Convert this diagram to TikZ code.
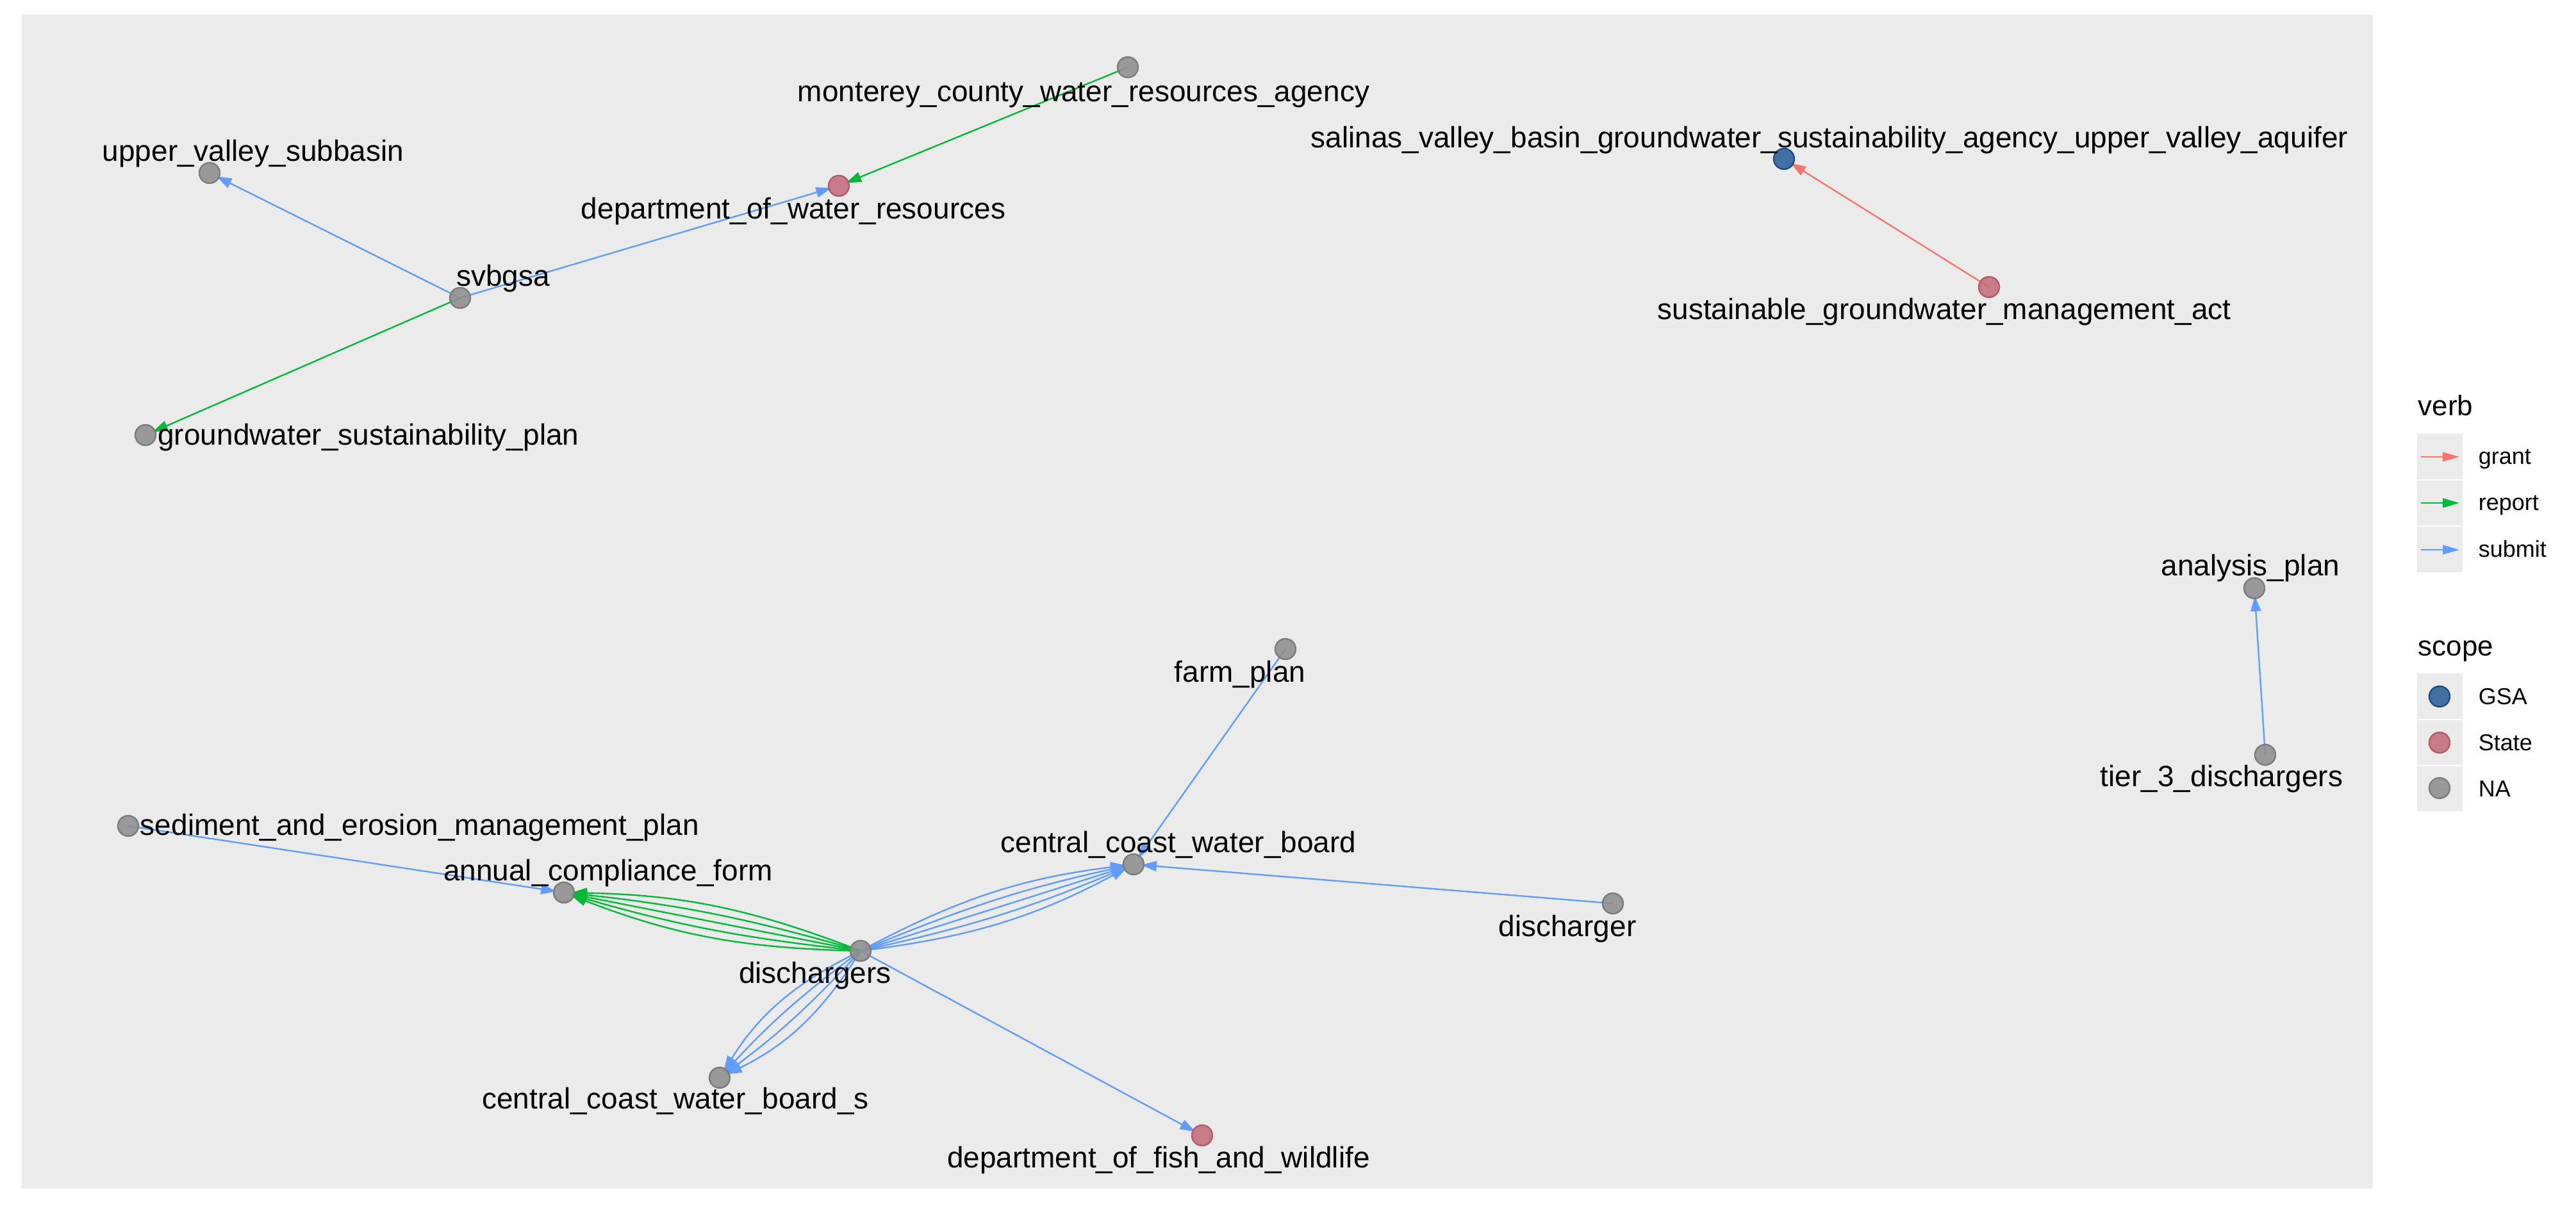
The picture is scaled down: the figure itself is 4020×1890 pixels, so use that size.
\documentclass[tikz,border=0pt]{standalone}
\usepackage{fontspec}
\setmainfont{Liberation Sans}
\usetikzlibrary{arrows.meta}
\definecolor{cgrant}{HTML}{F8766D}
\definecolor{creport}{HTML}{00BA38}
\definecolor{csubmit}{HTML}{619CFF}
\definecolor{panelbg}{HTML}{EBEBEB}
\definecolor{nafill}{HTML}{8E8E8E}
\definecolor{naborder}{HTML}{7C7C7C}
\definecolor{statefill}{HTML}{C46C7B}
\definecolor{stateborder}{HTML}{B45A69}
\definecolor{gsafill}{HTML}{2C5F99}
\definecolor{gsaborder}{HTML}{1B4C88}
\pgfdeclarelayer{bg}
\pgfdeclarelayer{edges}
\pgfsetlayers{bg,edges,main}
\begin{document}
\begin{tikzpicture}[x=0.25pt,y=-0.25pt,
  vnode/.style={circle, minimum size=8pt, inner sep=0pt, line width=0.6pt, fill opacity=0.88},
  na/.style={vnode, draw=naborder, fill=nafill},
  state/.style={vnode, draw=stateborder, fill=statefill},
  gsa/.style={vnode, draw=gsaborder, fill=gsafill},
  lbl/.style={anchor=base, inner sep=0pt, font=\fontsize{11.5}{13}\selectfont},
  ttl/.style={anchor=base west, inner sep=0pt, font=\fontsize{11}{13}\selectfont},
  keylbl/.style={anchor=base west, inner sep=0pt, font=\fontsize{9}{11}\selectfont},
  edge/.style={line width=0.6pt, shorten >=3pt, -{Triangle[length=6pt,width=4pt]}},
  grant/.style={edge, draw=cgrant},
  report/.style={edge, draw=creport},
  submit/.style={edge, draw=csubmit},
  legarrow/.style={line width=0.6pt, -{Triangle[length=6.5pt,width=3.6pt]}},
]
\useasboundingbox (0,0) rectangle (4020,1890);
\begin{pgfonlayer}{bg}
  \fill[panelbg] (34,23) rectangle (3703,1855);
  \fill[panelbg] (3772,677) rectangle (3843,893);
  \fill[panelbg] (3772,1051) rectangle (3843,1266);
  \draw[white, line width=0.3pt] (3772,749) -- (3843,749) (3772,821) -- (3843,821)
        (3772,1123) -- (3843,1123) (3772,1195) -- (3843,1195);
\end{pgfonlayer}

% graph nodes
\node[na] (mcwra) at (1760,105) {};
\node[state] (dwr) at (1309,290) {};
\node[na] (uvs) at (327,270) {};
\node[na] (svbgsa) at (718,465) {};
\node[na] (gsp) at (227,679) {};
\node[gsa] (svbuva) at (2784,248) {};
\node[state] (sgma) at (3104,448) {};
\node[na] (ap) at (3518,918) {};
\node[na] (t3d) at (3535,1178) {};
\node[na] (fp) at (2006,1013) {};
\node[na] (semp) at (200,1289) {};
\node[na] (acf) at (880,1393) {};
\node[na] (dis) at (1343,1484) {};
\node[na] (ccwb) at (1769,1349) {};
\node[na] (ccwbs) at (1123,1682) {};
\node[state] (dfw) at (1876,1772) {};
\node[na] (dsc) at (2517,1410) {};

% labels
\node[lbl] (lmcwra) at (1691,159) {monterey\_county\_water\_resources\_agency};
\node[lbl] (ldwr) at (1238,342) {department\_of\_water\_resources};
\node[lbl] (luvs) at (395,252) {upper\_valley\_subbasin};
\node[lbl] (lsvbgsa) at (785,447) {svbgsa};
\node[lbl] (lgsp) at (575,695) {groundwater\_sustainability\_plan};
\node[lbl] (lsvbuva) at (2855,231) {salinas\_valley\_basin\_groundwater\_sustainability\_agency\_upper\_valley\_aquifer};
\node[lbl] (lsgma) at (3034,499) {sustainable\_groundwater\_management\_act};
\node[lbl] (lap) at (3512,899) {analysis\_plan};
\node[lbl] (lt3d) at (3467,1228) {tier\_3\_dischargers};
\node[lbl] (lfp) at (1935,1065) {farm\_plan};
\node[lbl] (lsemp) at (655,1304) {sediment\_and\_erosion\_management\_plan};
\node[lbl] (lacf) at (949,1375) {annual\_compliance\_form};
\node[lbl] (ldis) at (1272,1535) {dischargers};
\node[lbl] (lccwb) at (1839,1331) {central\_coast\_water\_board};
\node[lbl] (lccwbs) at (1054,1731) {central\_coast\_water\_board\_s};
\node[lbl] (ldfw) at (1808,1823) {department\_of\_fish\_and\_wildlife};
\node[lbl] (ldsc) at (2446,1462) {discharger};

% edges
\begin{pgfonlayer}{edges}
  \draw[submit] (svbgsa.center) -- (uvs.center);
  \draw[submit] (svbgsa.center) -- (dwr.center);
  \draw[report] (svbgsa.center) -- (gsp.center);
  \draw[report] (mcwra.center) -- (dwr.center);
  \draw[grant] (sgma.center) -- (svbuva.center);
  \draw[submit] (t3d.center) -- (ap.center);
  \draw[submit] (fp.center) -- (ccwb.center);
  \draw[submit] (dsc.center) -- (ccwb.center);
  \draw[submit] (semp.center) -- (acf.center);
  \draw[submit] (dis.center) -- (dfw.center);
  % fan to annual_compliance_form
  \draw[report] (dis.center) to[bend left=10] (acf.center);
  \draw[report] (dis.center) to[bend left=5] (acf.center);
  \draw[report] (dis.center) -- (acf.center);
  \draw[report] (dis.center) to[bend right=5] (acf.center);
  \draw[report] (dis.center) to[bend right=10] (acf.center);
  % fan to central_coast_water_board
  \draw[submit] (dis.center) to[bend left=10.5] (ccwb.center);
  \draw[submit] (dis.center) to[bend left=5.2] (ccwb.center);
  \draw[submit] (dis.center) -- (ccwb.center);
  \draw[submit] (dis.center) to[bend right=5.2] (ccwb.center);
  \draw[submit] (dis.center) to[bend right=10.5] (ccwb.center);
  % fan to central_coast_water_board_s
  \draw[submit] (dis.center) to[bend left=16] (ccwbs.center);
  \draw[submit] (dis.center) to[bend left=5.3] (ccwbs.center);
  \draw[submit] (dis.center) to[bend right=5.3] (ccwbs.center);
  \draw[submit] (dis.center) to[bend right=16] (ccwbs.center);
\end{pgfonlayer}

% legend: verb
\node[ttl] (tverb) at (3773,649) {verb};
\coordinate (ga) at (3778,713); \coordinate (gb) at (3838,713);
\coordinate (ra) at (3778,785); \coordinate (rb) at (3838,785);
\coordinate (sa) at (3778,858); \coordinate (sb) at (3838,858);
\draw[legarrow, draw=cgrant] (ga) -- (gb);
\draw[legarrow, draw=creport] (ra) -- (rb);
\draw[legarrow, draw=csubmit] (sa) -- (sb);
\node[keylbl] (kgrant) at (3867,725) {grant};
\node[keylbl] (kreport) at (3867,797) {report};
\node[keylbl] (ksubmit) at (3867,870) {submit};

% legend: scope
\node[ttl] (tscope) at (3773,1024) {scope};
\node[gsa] (dgsa) at (3807,1087) {};
\node[state] (dstate) at (3807,1159) {};
\node[na] (dna) at (3807,1230) {};
\node[keylbl] (kgsa) at (3867,1100) {GSA};
\node[keylbl] (kstate) at (3867,1172) {State};
\node[keylbl] (kna) at (3867,1244) {NA};
\end{tikzpicture}
\end{document}
